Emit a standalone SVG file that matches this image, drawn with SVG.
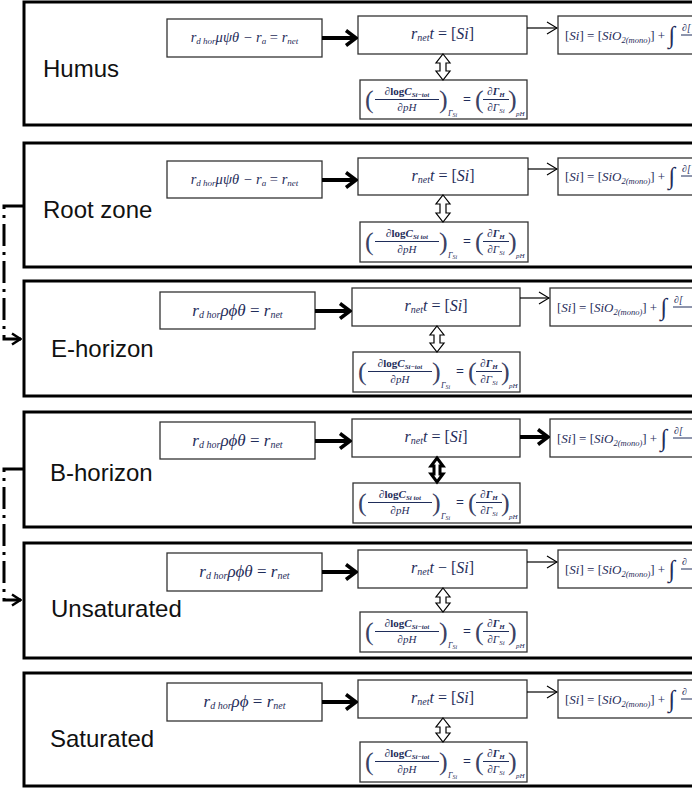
<svg xmlns="http://www.w3.org/2000/svg" width="692" height="791" viewBox="0 0 692 791">
<defs>
<style>
.panel{fill:#fff;stroke:#000;stroke-width:3}
.box{fill:#fff;stroke:#333;stroke-width:1.3}
.lbl{font-family:"Liberation Sans",Arial,sans-serif;font-size:24px;fill:#111}
.eq{font-family:"Liberation Serif","DejaVu Serif",serif;font-style:italic;fill:#1f2d5a}
.up{font-style:normal}
.b{font-weight:bold}
.par{font-family:"Liberation Serif","DejaVu Serif",serif;font-style:normal;fill:#3a4264;font-size:26px}
.bold{stroke:#000;stroke-width:4;fill:none}
.thin{stroke:#000;stroke-width:1.2;fill:none}
.dd{stroke:#000;stroke-width:3;fill:none;stroke-dasharray:22 6 3 6}
.dia{fill:#fff;stroke:#000;stroke-width:1.2}
.diab{fill:#fff;stroke:#000;stroke-width:3;stroke-linejoin:miter}
.fl{stroke:#1f2d5a;stroke-width:1}
</style>
<marker id="hb" viewBox="0 0 14 18" refX="12" refY="9" markerWidth="14" markerHeight="18" markerUnits="userSpaceOnUse" orient="auto"><path d="M2,1.5 L12,9 L2,16.5" fill="none" stroke="#000" stroke-width="3.5"/></marker>
<marker id="ht" viewBox="0 0 12 14" refX="11" refY="7" markerWidth="12" markerHeight="14" markerUnits="userSpaceOnUse" orient="auto"><path d="M1,1 L11,7 L1,13" fill="none" stroke="#000" stroke-width="1.2"/></marker>
<marker id="hd" viewBox="0 0 12 14" refX="11" refY="7" markerWidth="12" markerHeight="14" markerUnits="userSpaceOnUse" orient="auto"><path d="M2,1.5 L10.5,7 L2,12.5" fill="none" stroke="#000" stroke-width="2.5"/></marker>
</defs>
<rect width="692" height="791" fill="#fff"/>

<!-- Panels -->
<g id="humus"><rect class="panel" x="24" y="2" width="700" height="123"/><text class="lbl" x="43" y="77">Humus</text></g>
<g id="rootzone"><rect class="panel" x="24" y="143" width="700" height="124"/><text class="lbl" x="43" y="218">Root zone</text></g>
<g id="ehorizon"><rect class="panel" x="24" y="281" width="700" height="115"/><text class="lbl" x="51" y="357">E-horizon</text></g>
<g id="bhorizon"><rect class="panel" x="24" y="412" width="700" height="115"/><text class="lbl" x="50" y="481">B-horizon</text></g>
<g id="unsaturated"><rect class="panel" x="24" y="543" width="700" height="115"/><text class="lbl" x="51" y="617">Unsaturated</text></g>
<g id="saturated"><rect class="panel" x="24" y="673" width="700" height="113"/><text class="lbl" x="50" y="747">Saturated</text></g>

<!-- Humus nodes -->
<g id="p1-rate"><rect class="box" x="167" y="19" width="155" height="38"/><text class="eq" x="244.5" y="42" font-size="14.5" text-anchor="middle">r<tspan font-size="9" dy="2">d hor</tspan><tspan dy="-2">μψθ − r</tspan><tspan font-size="9" dy="2">a</tspan><tspan dy="-2" class="up"> = </tspan>r<tspan font-size="9" dy="2">net</tspan></text></g>
<g id="p1-mass"><rect class="box" x="358" y="16" width="169" height="38"/><text class="eq" x="442.5" y="39" font-size="16" text-anchor="middle">r<tspan font-size="10" dy="2">net</tspan><tspan dy="-2">t </tspan><tspan class="up">= [</tspan>Si<tspan class="up">]</tspan></text></g>
<g id="p1-si"><rect class="box" x="558" y="16" width="200" height="38"/><text class="eq" x="565" y="40" font-size="13"><tspan class="up">[</tspan>Si<tspan class="up">] = [</tspan>SiO<tspan font-size="8.5" dy="3">2(mono)</tspan><tspan class="up" dy="-3">] + </tspan><tspan class="up" font-size="24" dy="3">∫</tspan></text><text class="eq" x="682" y="31" font-size="10">∂[</text><line class="fl" x1="681" y1="35" x2="700" y2="35"/></g>
<g id="p1-eq" transform="translate(360,80)"><rect class="box" x="0" y="0" width="167" height="39"/>
<text class="par" x="5" y="28">(</text><text class="eq b" x="47" y="15" font-size="11" text-anchor="middle"><tspan class="up">∂log</tspan>C<tspan font-size="7" dy="2">Si−tot</tspan></text><line class="fl" x1="15" y1="19.5" x2="79" y2="19.5"/><text class="eq" x="47" y="31" font-size="11" text-anchor="middle">∂pH</text><text class="par" x="79" y="28">)</text><text class="eq" x="88" y="36" font-size="8">Γ<tspan font-size="6" dy="1">Si</tspan></text>
<text class="eq up b" x="103" y="24" font-size="14">=</text>
<text class="par" x="115" y="28">(</text><text class="eq b" x="136" y="15" font-size="11" text-anchor="middle">∂Γ<tspan font-size="7" dy="2">H</tspan></text><line class="fl" x1="123" y1="19.5" x2="149" y2="19.5"/><text class="eq" x="136" y="31" font-size="11" text-anchor="middle">∂Γ<tspan font-size="7" dy="2">Si</tspan></text><text class="par" x="148" y="28">)</text><text class="eq" x="156" y="36" font-size="7">pH</text></g>

<!-- Root zone nodes -->
<g id="p2-rate"><rect class="box" x="167" y="161" width="155" height="37"/><text class="eq" x="244.5" y="184" font-size="14.5" text-anchor="middle">r<tspan font-size="9" dy="2">d hor</tspan><tspan dy="-2">μψθ − r</tspan><tspan font-size="9" dy="2">a</tspan><tspan dy="-2" class="up"> = </tspan>r<tspan font-size="9" dy="2">net</tspan></text></g>
<g id="p2-mass"><rect class="box" x="358" y="158" width="170" height="37"/><text class="eq" x="443" y="181" font-size="16" text-anchor="middle">r<tspan font-size="10" dy="2">net</tspan><tspan dy="-2">t </tspan><tspan class="up">= [</tspan>Si<tspan class="up">]</tspan></text></g>
<g id="p2-si"><rect class="box" x="558" y="158" width="200" height="37"/><text class="eq" x="565" y="181" font-size="13"><tspan class="up">[</tspan>Si<tspan class="up">] = [</tspan>SiO<tspan font-size="8.5" dy="3">2(mono)</tspan><tspan class="up" dy="-3">] + </tspan><tspan class="up" font-size="24" dy="3">∫</tspan></text><text class="eq" x="682" y="172" font-size="10">∂[</text><line class="fl" x1="681" y1="176" x2="700" y2="176"/></g>
<g id="p2-eq" transform="translate(360,222)"><rect class="box" x="0" y="0" width="168" height="40"/>
<text class="par" x="5" y="28">(</text><text class="eq b" x="47" y="15" font-size="11" text-anchor="middle"><tspan class="up">∂log</tspan>C<tspan font-size="7" dy="2">Si  tot</tspan></text><line class="fl" x1="15" y1="19.5" x2="79" y2="19.5"/><text class="eq" x="47" y="31" font-size="11" text-anchor="middle">∂pH</text><text class="par" x="79" y="28">)</text><text class="eq" x="88" y="36" font-size="8">Γ<tspan font-size="6" dy="1">Si</tspan></text>
<text class="eq up b" x="103" y="24" font-size="14">=</text>
<text class="par" x="115" y="28">(</text><text class="eq b" x="136" y="15" font-size="11" text-anchor="middle">∂Γ<tspan font-size="7" dy="2">H</tspan></text><line class="fl" x1="123" y1="19.5" x2="149" y2="19.5"/><text class="eq" x="136" y="31" font-size="11" text-anchor="middle">∂Γ<tspan font-size="7" dy="2">Si</tspan></text><text class="par" x="148" y="28">)</text><text class="eq" x="156" y="36" font-size="7">pH</text></g>

<!-- E-horizon nodes -->
<g id="p3-rate"><rect class="box" x="160" y="292" width="155" height="37"/><text class="eq" x="237.5" y="316" font-size="17" text-anchor="middle">r<tspan font-size="10" dy="2">d hor</tspan><tspan dy="-2">ρϕθ </tspan><tspan class="up">= </tspan>r<tspan font-size="10" dy="2">net</tspan></text></g>
<g id="p3-mass"><rect class="box" x="352" y="288" width="168" height="38"/><text class="eq" x="436" y="311" font-size="16" text-anchor="middle">r<tspan font-size="10" dy="2">net</tspan><tspan dy="-2">t </tspan><tspan class="up">= [</tspan>Si<tspan class="up">]</tspan></text></g>
<g id="p3-si"><rect class="box" x="550" y="288" width="200" height="38"/><text class="eq" x="557" y="312" font-size="13"><tspan class="up">[</tspan>Si<tspan class="up">] = [</tspan>SiO<tspan font-size="8.5" dy="3">2(mono)</tspan><tspan class="up" dy="-3">] + </tspan><tspan class="up" font-size="24" dy="3">∫</tspan></text><text class="eq" x="674" y="303" font-size="10">∂[</text><line class="fl" x1="673" y1="307" x2="700" y2="307"/></g>
<g id="p3-eq" transform="translate(353,352)"><rect class="box" x="0" y="0" width="167" height="40"/>
<text class="par" x="5" y="28">(</text><text class="eq b" x="47" y="15" font-size="11" text-anchor="middle"><tspan class="up">∂log</tspan>C<tspan font-size="7" dy="2">Si−tot</tspan></text><line class="fl" x1="15" y1="19.5" x2="79" y2="19.5"/><text class="eq" x="47" y="31" font-size="11" text-anchor="middle">∂pH</text><text class="par" x="79" y="28">)</text><text class="eq" x="88" y="36" font-size="8">Γ<tspan font-size="6" dy="1">Si</tspan></text>
<text class="eq up b" x="103" y="24" font-size="14">=</text>
<text class="par" x="115" y="28">(</text><text class="eq b" x="136" y="15" font-size="11" text-anchor="middle">∂Γ<tspan font-size="7" dy="2">H</tspan></text><line class="fl" x1="123" y1="19.5" x2="149" y2="19.5"/><text class="eq" x="136" y="31" font-size="11" text-anchor="middle">∂Γ<tspan font-size="7" dy="2">Si</tspan></text><text class="par" x="148" y="28">)</text><text class="eq" x="156" y="36" font-size="7">pH</text></g>

<!-- B-horizon nodes -->
<g id="p4-rate"><rect class="box" x="160" y="422" width="155" height="37"/><text class="eq" x="237.5" y="446" font-size="17" text-anchor="middle">r<tspan font-size="10" dy="2">d hor</tspan><tspan dy="-2">ρϕθ </tspan><tspan class="up">= </tspan>r<tspan font-size="10" dy="2">net</tspan></text></g>
<g id="p4-mass"><rect class="box" x="352" y="419" width="168" height="38"/><text class="eq" x="436" y="442" font-size="16" text-anchor="middle">r<tspan font-size="10" dy="2">net</tspan><tspan dy="-2">t </tspan><tspan class="up">= [</tspan>Si<tspan class="up">]</tspan></text></g>
<g id="p4-si"><rect class="box" x="550" y="419" width="200" height="38"/><text class="eq" x="557" y="443" font-size="13"><tspan class="up">[</tspan>Si<tspan class="up">] = [</tspan>SiO<tspan font-size="8.5" dy="3">2(mono)</tspan><tspan class="up" dy="-3">] + </tspan><tspan class="up" font-size="24" dy="3">∫</tspan></text><text class="eq" x="674" y="434" font-size="10">∂[</text><line class="fl" x1="673" y1="438" x2="700" y2="438"/></g>
<g id="p4-eq" transform="translate(353,483)"><rect class="box" x="0" y="0" width="167" height="40"/>
<text class="par" x="5" y="28">(</text><text class="eq b" x="47" y="15" font-size="11" text-anchor="middle"><tspan class="up">∂log</tspan>C<tspan font-size="7" dy="2">Si  tot</tspan></text><line class="fl" x1="15" y1="19.5" x2="79" y2="19.5"/><text class="eq" x="47" y="31" font-size="11" text-anchor="middle">∂pH</text><text class="par" x="79" y="28">)</text><text class="eq" x="88" y="36" font-size="8">Γ<tspan font-size="6" dy="1">Si</tspan></text>
<text class="eq up b" x="103" y="24" font-size="14">=</text>
<text class="par" x="115" y="28">(</text><text class="eq b" x="136" y="15" font-size="11" text-anchor="middle">∂Γ<tspan font-size="7" dy="2">H</tspan></text><line class="fl" x1="123" y1="19.5" x2="149" y2="19.5"/><text class="eq" x="136" y="31" font-size="11" text-anchor="middle">∂Γ<tspan font-size="7" dy="2">Si</tspan></text><text class="par" x="148" y="28">)</text><text class="eq" x="156" y="36" font-size="7">pH</text></g>

<!-- Unsaturated nodes -->
<g id="p5-rate"><rect class="box" x="167" y="553" width="155" height="38"/><text class="eq" x="244.5" y="577" font-size="17" text-anchor="middle">r<tspan font-size="10" dy="2">d hor</tspan><tspan dy="-2">ρϕθ </tspan><tspan class="up">= </tspan>r<tspan font-size="10" dy="2">net</tspan></text></g>
<g id="p5-mass"><rect class="box" x="358" y="550" width="169" height="38"/><text class="eq" x="442.5" y="573" font-size="16" text-anchor="middle">r<tspan font-size="10" dy="2">net</tspan><tspan dy="-2">t </tspan><tspan class="up">− [</tspan>Si<tspan class="up">]</tspan></text></g>
<g id="p5-si"><rect class="box" x="558" y="550" width="200" height="38"/><text class="eq" x="565" y="574" font-size="13"><tspan class="up">[</tspan>Si<tspan class="up">] = [</tspan>SiO<tspan font-size="8.5" dy="3">2(mono)</tspan><tspan class="up" dy="-3">] + </tspan><tspan class="up" font-size="24" dy="3">∫</tspan></text><text class="eq" x="682" y="565" font-size="10">∂</text><line class="fl" x1="681" y1="569" x2="700" y2="569"/></g>
<g id="p5-eq" transform="translate(360,612)"><rect class="box" x="0" y="0" width="167" height="40"/>
<text class="par" x="5" y="28">(</text><text class="eq b" x="47" y="15" font-size="11" text-anchor="middle"><tspan class="up">∂log</tspan>C<tspan font-size="7" dy="2">Si−tot</tspan></text><line class="fl" x1="15" y1="19.5" x2="79" y2="19.5"/><text class="eq" x="47" y="31" font-size="11" text-anchor="middle">∂pH</text><text class="par" x="79" y="28">)</text><text class="eq" x="88" y="36" font-size="8">Γ<tspan font-size="6" dy="1">Si</tspan></text>
<text class="eq up b" x="103" y="24" font-size="14">=</text>
<text class="par" x="115" y="28">(</text><text class="eq b" x="136" y="15" font-size="11" text-anchor="middle">∂Γ<tspan font-size="7" dy="2">H</tspan></text><line class="fl" x1="123" y1="19.5" x2="149" y2="19.5"/><text class="eq" x="136" y="31" font-size="11" text-anchor="middle">∂Γ<tspan font-size="7" dy="2">Si</tspan></text><text class="par" x="148" y="28">)</text><text class="eq" x="156" y="36" font-size="7">pH</text></g>

<!-- Saturated nodes -->
<g id="p6-rate"><rect class="box" x="167" y="683" width="155" height="38"/><text class="eq" x="244.5" y="707" font-size="17" text-anchor="middle">r<tspan font-size="10" dy="2">d hor</tspan><tspan dy="-2">ρϕ </tspan><tspan class="up">= </tspan>r<tspan font-size="10" dy="2">net</tspan></text></g>
<g id="p6-mass"><rect class="box" x="358" y="680" width="169" height="38"/><text class="eq" x="442.5" y="703" font-size="16" text-anchor="middle">r<tspan font-size="10" dy="2">net</tspan><tspan dy="-2">t </tspan><tspan class="up">= [</tspan>Si<tspan class="up">]</tspan></text></g>
<g id="p6-si"><rect class="box" x="558" y="680" width="200" height="38"/><text class="eq" x="565" y="704" font-size="13"><tspan class="up">[</tspan>Si<tspan class="up">] = [</tspan>SiO<tspan font-size="8.5" dy="3">2(mono)</tspan><tspan class="up" dy="-3">] + </tspan><tspan class="up" font-size="24" dy="3">∫</tspan></text><text class="eq" x="682" y="695" font-size="10">∂</text><line class="fl" x1="681" y1="699" x2="700" y2="699"/></g>
<g id="p6-eq" transform="translate(360,742)"><rect class="box" x="0" y="0" width="167" height="40"/>
<text class="par" x="5" y="28">(</text><text class="eq b" x="47" y="15" font-size="11" text-anchor="middle"><tspan class="up">∂log</tspan>C<tspan font-size="7" dy="2">Si−tot</tspan></text><line class="fl" x1="15" y1="19.5" x2="79" y2="19.5"/><text class="eq" x="47" y="31" font-size="11" text-anchor="middle">∂pH</text><text class="par" x="79" y="28">)</text><text class="eq" x="88" y="36" font-size="8">Γ<tspan font-size="6" dy="1">Si</tspan></text>
<text class="eq up b" x="103" y="24" font-size="14">=</text>
<text class="par" x="115" y="28">(</text><text class="eq b" x="136" y="15" font-size="11" text-anchor="middle">∂Γ<tspan font-size="7" dy="2">H</tspan></text><line class="fl" x1="123" y1="19.5" x2="149" y2="19.5"/><text class="eq" x="136" y="31" font-size="11" text-anchor="middle">∂Γ<tspan font-size="7" dy="2">Si</tspan></text><text class="par" x="148" y="28">)</text><text class="eq" x="156" y="36" font-size="7">pH</text></g>

<!-- Connectors -->
<g id="connectors">
<line class="bold" x1="322" y1="38" x2="356" y2="38" marker-end="url(#hb)"/>
<line class="thin" x1="527" y1="28" x2="557" y2="28" marker-end="url(#ht)"/>
<path class="dia" d="M443,54 L450,63 L446,63 L446,71 L450,71 L443,80 L436,71 L440,71 L440,63 L436,63 Z"/>

<line class="bold" x1="322" y1="180" x2="356" y2="180" marker-end="url(#hb)"/>
<line class="thin" x1="528" y1="169" x2="557" y2="169" marker-end="url(#ht)"/>
<path class="dia" d="M443,195 L450,204 L446,204 L446,213 L450,213 L443,222 L436,213 L440,213 L440,204 L436,204 Z"/>

<line class="bold" x1="315" y1="311" x2="350" y2="311" marker-end="url(#hb)"/>
<line class="thin" x1="520" y1="298" x2="549" y2="298" marker-end="url(#ht)"/>
<path class="dia" d="M437,326 L444,335 L440,335 L440,343 L444,343 L437,352 L430,343 L434,343 L434,335 L430,335 Z"/>

<line class="bold" x1="315" y1="441" x2="350" y2="441" marker-end="url(#hb)"/>
<line class="bold" x1="520" y1="437" x2="548" y2="437" marker-end="url(#hb)"/>
<path class="diab" d="M437,458 L443,466 L440,466 L440,474 L443,474 L437,482 L431,474 L434,474 L434,466 L431,466 Z"/>

<line class="bold" x1="322" y1="572" x2="356" y2="572" marker-end="url(#hb)"/>
<line class="thin" x1="527" y1="562" x2="557" y2="562" marker-end="url(#ht)"/>
<path class="dia" d="M443,588 L450,597 L446,597 L446,603 L450,603 L443,612 L436,603 L440,603 L440,597 L436,597 Z"/>

<line class="bold" x1="322" y1="702" x2="356" y2="702" marker-end="url(#hb)"/>
<line class="thin" x1="527" y1="692" x2="557" y2="692" marker-end="url(#ht)"/>
<path class="dia" d="M443,718 L450,727 L446,727 L446,733 L450,733 L443,742 L436,733 L440,733 L440,727 L436,727 Z"/>

<path class="dd" d="M23,206 H4 V339 H21" marker-end="url(#hd)"/>
<path class="dd" d="M23,469 H4 V600 H21" marker-end="url(#hd)"/>
</g>
</svg>
